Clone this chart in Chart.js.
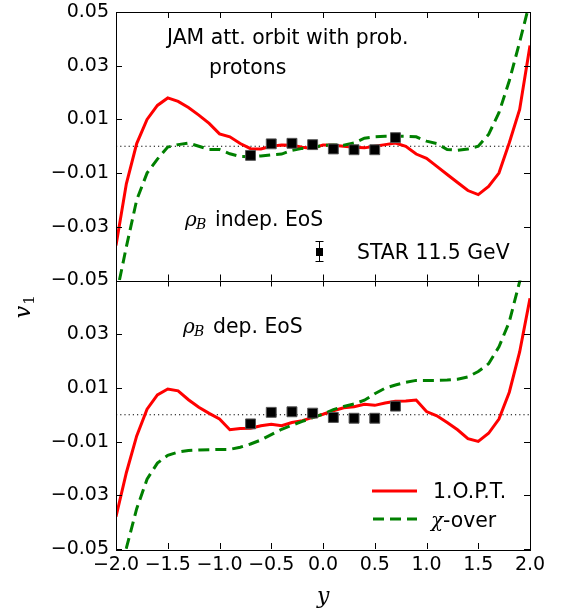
<!DOCTYPE html>
<html>
<head>
<meta charset="utf-8">
<script src="https://cdn.jsdelivr.net/npm/chart.js@4.4.1/dist/chart.umd.min.js"></script>
<style>
  html, body { margin: 0; padding: 0; background: #fff; }
</style>
</head>
<body>
<canvas id="grafico" width="563" height="615"></canvas>
<script>
// rapidez (eje x) comun a todas las curvas del modelo
const rapidez = [-2.0, -1.9, -1.8, -1.7, -1.6, -1.5, -1.4, -1.3, -1.2, -1.1, -1.0,
  -0.9, -0.8, -0.7, -0.6, -0.5, -0.4, -0.3, -0.2, -0.1, 0.0,
  0.1, 0.2, 0.3, 0.4, 0.5, 0.6, 0.7, 0.8, 0.9, 1.0,
  1.1, 1.2, 1.3, 1.4, 1.5, 1.6, 1.7, 1.8, 1.9, 2.0];

// panel superior: EoS independiente de rho_B
const optIndep = [-0.037, -0.014, 0.001, 0.010, 0.0152, 0.018, 0.0167, 0.0144, 0.0116, 0.0085, 0.0046,
  0.0035, 0.001, -0.0009, -0.001, 0.0, 0.0005, 0.0004, -0.0004, -0.0008, 0.0005,
  0.0004, 0.0, -0.0004, -0.0006, 0.0, 0.0006, 0.0012, 0.0, -0.0029, -0.0045,
  -0.0075, -0.0105, -0.0135, -0.0165, -0.018, -0.015, -0.010, 0.0013, 0.0137, 0.0375];
const chiIndep = [-0.056, -0.0375, -0.020, -0.010, -0.0048, -0.0003, 0.0006, 0.0012, 0.0, -0.0012, -0.0012,
  -0.0028, -0.0038, -0.0039, -0.0036, -0.0032, -0.0029, -0.0015, -0.0008, -0.0005, 0.0003,
  0.0005, 0.0004, 0.0012, 0.003, 0.0035, 0.0037, 0.0037, 0.0037, 0.0035, 0.0019,
  0.001, -0.0012, -0.0015, -0.001, 0.0, 0.0044, 0.0125, 0.0244, 0.0388, 0.054];

// panel inferior: EoS dependiente de rho_B
const optDep = [-0.038, -0.0216, -0.0079, 0.0021, 0.0074, 0.0096, 0.0089, 0.0056, 0.0028, 0.0005, -0.0016,
  -0.0056, -0.0051, -0.005, -0.0041, -0.0035, -0.0041, -0.0029, -0.0022, -0.001, 0.0002,
  0.0015, 0.0026, 0.003, 0.0039, 0.0035, 0.0044, 0.005, 0.0051, 0.0055, 0.0012,
  -0.0004, -0.0029, -0.0056, -0.0089, -0.0099, -0.0069, -0.0016, 0.0084, 0.0234, 0.0434];
const chiDep = [-0.062, -0.0497, -0.035, -0.024, -0.018, -0.0151, -0.0139, -0.0133, -0.0131, -0.013, -0.0129,
  -0.0129, -0.0121, -0.0109, -0.0094, -0.0074, -0.0054, -0.0039, -0.0025, -0.0011, 0.0002,
  0.0019, 0.0031, 0.004, 0.0054, 0.0078, 0.0099, 0.0111, 0.0121, 0.0128, 0.0128,
  0.0128, 0.0129, 0.0132, 0.0141, 0.0161, 0.019, 0.0253, 0.0346, 0.0496, 0.065];

// datos STAR 11.5 GeV
const starY = [-0.7, -0.5, -0.3, -0.1, 0.1, 0.3, 0.5, 0.7];
const starV1 = [-0.0034, 0.0009, 0.0011, 0.0006, -0.001, -0.0013, -0.0013, 0.0032];

// ticks
const xTicks = [-2.0, -1.5, -1.0, -0.5, 0.0, 0.5, 1.0, 1.5, 2.0];
const yTicksTop = [-0.05, -0.03, -0.01, 0.01, 0.03, 0.05];
const yTicksBot = [-0.05, -0.03, -0.01, 0.01, 0.03];
const yRango = [-0.05, 0.05];

const ROJO = "#ff0000";
const VERDE = "#008000";

const pares = (xs, ys) => xs.map((x, i) => ({ x: x, y: ys[i] }));
const menos = (s) => s.replace("-", "\u2212");

function curva(data, color, eje, dash, orden) {
  return {
    data: data,
    yAxisID: eje,
    borderColor: color,
    borderWidth: 3,
    borderDash: dash,
    pointRadius: 0,
    tension: 0,
    fill: false,
    order: orden,
  };
}

function puntos(eje) {
  return {
    data: pares(starY, starV1),
    yAxisID: eje,
    showLine: false,
    pointStyle: "rect",
    pointRadius: 7,
    backgroundColor: "#000",
    borderColor: "#555",
    borderWidth: 1,
    order: 0,
  };
}

function ceroLinea(eje) {
  return {
    data: pares([xTicks[0], xTicks[xTicks.length - 1]], [0, 0]),
    yAxisID: eje,
    borderColor: "#000",
    borderWidth: 1.2,
    borderDash: [1.2, 3],
    pointRadius: 0,
    order: 3,
  };
}

function ejeY(ticks, peso) {
  return {
    type: "linear",
    position: "left",
    stack: "v1",
    stackWeight: 1,
    weight: peso,
    min: yRango[0],
    max: yRango[1],
    afterBuildTicks: (s) => { s.ticks = ticks.map((v) => ({ value: v })); },
    afterFit: (s) => { s.width = 116; s.paddingTop = 0; s.paddingBottom = 0; },
    grid: { display: false, drawTicks: false },
    border: { display: false },
    ticks: {
      color: "#000",
      padding: 7,
      font: { family: "DejaVu Sans", size: 19 },
      callback: (v) => menos(v.toFixed(2)),
    },
  };
}

// marco, ticks internos, textos y leyendas
const decorado = {
  id: "decorado",
  afterDraw(chart) {
    const ctx = chart.ctx;
    const xs = chart.scales.x;
    const largo = 6;
    ctx.save();
    ctx.strokeStyle = "#000";
    ctx.lineWidth = 1;
    [["yTop", yTicksTop], ["yBot", yTicksBot]].forEach(([id, tk]) => {
      const ys = chart.scales[id];
      ctx.strokeRect(Math.round(xs.left) + 0.5, Math.round(ys.top) + 0.5,
        Math.round(xs.right - xs.left), Math.round(ys.bottom - ys.top));
      ctx.beginPath();
      xTicks.forEach((v) => {
        const px = Math.round(xs.getPixelForValue(v)) + 0.5;
        ctx.moveTo(px, ys.top); ctx.lineTo(px, ys.top + largo);
        ctx.moveTo(px, ys.bottom); ctx.lineTo(px, ys.bottom - largo);
      });
      tk.forEach((v) => {
        const py = Math.round(ys.getPixelForValue(v)) + 0.5;
        ctx.moveTo(xs.left, py); ctx.lineTo(xs.left + largo, py);
        ctx.moveTo(xs.right, py); ctx.lineTo(xs.right - largo, py);
      });
      ctx.stroke();
    });

    ctx.fillStyle = "#000";
    ctx.textBaseline = "alphabetic";
    ctx.textAlign = "left";
    const sans = "20.4px 'DejaVu Sans'";
    const texto = (s, x, y, f) => { ctx.font = f || sans; ctx.fillText(s, x, y); };
    const rhoB = (x, y) => {
      texto("\u03c1", x, y, "italic 20px 'DejaVu Serif'");
      texto("B", x + 11, y + 3, "italic 14px 'DejaVu Serif'");
    };

    texto("JAM att. orbit with prob.", 167, 44);
    texto("protons", 209, 74);
    rhoB(185, 226);
    texto("indep. EoS", 215, 226);
    rhoB(183, 333);
    texto("dep. EoS", 213, 333);

    // leyenda STAR
    const mx = 319, my = 252;
    ctx.beginPath();
    ctx.moveTo(mx + 0.5, my - 11); ctx.lineTo(mx + 0.5, my + 10);
    ctx.moveTo(mx - 3.5, my - 10.5); ctx.lineTo(mx + 4.5, my - 10.5);
    ctx.moveTo(mx - 3.5, my + 9.5); ctx.lineTo(mx + 4.5, my + 9.5);
    ctx.stroke();
    ctx.fillRect(mx - 3, my - 4, 7, 8);
    texto("STAR 11.5 GeV", 357, 259);

    // leyenda de curvas
    const ds = chart.data.datasets;
    ctx.lineWidth = 3;
    ctx.strokeStyle = ds[0].borderColor;
    ctx.beginPath(); ctx.moveTo(372, 491); ctx.lineTo(417, 491); ctx.stroke();
    ctx.strokeStyle = ds[1].borderColor;
    ctx.setLineDash(ds[1].borderDash);
    ctx.beginPath(); ctx.moveTo(373, 519); ctx.lineTo(417, 519); ctx.stroke();
    ctx.setLineDash([]);
    texto("1.O.P.T.", 433, 498);
    texto("\u03c7", 431, 527, "italic 20px 'DejaVu Serif'");
    texto("-over", 443, 527);

    // titulos de ejes
    texto("y", 317, 603, "italic 22px 'DejaVu Serif'");
    ctx.translate(30, 308);
    ctx.rotate(-Math.PI / 2);
    ctx.textAlign = "center";
    texto("v", -4, 0, "italic 22px 'DejaVu Serif'");
    texto("1", 8, 4, "15px 'DejaVu Serif'");
    ctx.restore();
  },
};

new Chart(document.getElementById("grafico").getContext("2d"), {
  type: "line",
  data: {
    datasets: [
      curva(pares(rapidez, optIndep), ROJO, "yTop", [], 2),
      curva(pares(rapidez, chiIndep), VERDE, "yTop", [11, 6], 1),
      puntos("yTop"),
      ceroLinea("yTop"),
      curva(pares(rapidez, optDep), ROJO, "yBot", [], 2),
      curva(pares(rapidez, chiDep), VERDE, "yBot", [11, 6], 1),
      puntos("yBot"),
      ceroLinea("yBot"),
    ],
  },
  options: {
    responsive: false,
    animation: false,
    devicePixelRatio: 1,
    layout: { padding: { top: 12, right: 33, left: 0, bottom: 0 } },
    plugins: { legend: { display: false }, tooltip: { enabled: false } },
    scales: {
      x: {
        type: "linear",
        min: xTicks[0],
        max: xTicks[xTicks.length - 1],
        afterBuildTicks: (s) => { s.ticks = xTicks.map((v) => ({ value: v })); },
        afterFit: (s) => { s.height = 66; s.paddingLeft = 0; s.paddingRight = 0; },
        grid: { display: false, drawTicks: false },
        border: { display: false },
        ticks: {
          color: "#000",
          padding: 5,
          maxRotation: 0,
          font: { family: "DejaVu Sans", size: 19 },
          callback: (v) => menos(v.toFixed(1)),
        },
      },
      yBot: ejeY(yTicksBot, 0),
      yTop: ejeY(yTicksTop, 1),
    },
  },
  plugins: [decorado],
});
</script>
</body>
</html>
